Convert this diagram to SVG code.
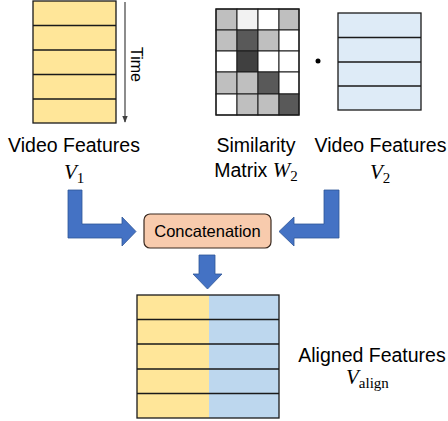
<svg xmlns="http://www.w3.org/2000/svg" width="448" height="421" viewBox="0 0 448 421">
<style>
.lbl{font-family:"Liberation Sans",Arial,sans-serif;font-size:19.5px;fill:#000;text-anchor:middle}
.math{font-family:"Liberation Serif","Times New Roman",serif;font-size:21px;fill:#000}
.mi{font-style:italic}
.sub{font-size:15px}
.yl{fill:#FFE699}
.bl{fill:#DEEBF7}
.bl2{fill:#BDD7EE}
.ln{stroke:#1a1a1a;stroke-width:1.3;fill:none}
.cell{stroke:#1a1a1a;stroke-width:1}
.arr{fill:#4472C4;stroke:#2F5597;stroke-width:0.8}
</style>
<defs>
<marker id="ah" viewBox="0 0 10 10" refX="9" refY="5" markerWidth="6" markerHeight="6" orient="auto">
<path d="M0,1 L10,5 L0,9 Z" fill="#404040"/>
</marker>
</defs>

<g id="v1-features">
<rect class="yl" x="33" y="1" width="83" height="122"/>
<path class="ln" d="M33,25.5H116M33,50H116M33,74.5H116M33,99H116"/>
<rect class="ln" x="33" y="1" width="83" height="122"/>
<line x1="125" y1="2" x2="125" y2="122" stroke="#404040" stroke-width="1.2" marker-end="url(#ah)"/>
<text transform="translate(131,64.5) rotate(90)" style="font-family:'Liberation Sans',Arial,sans-serif;font-size:16px" text-anchor="middle">Time</text>
<text class="lbl" x="74" y="152">Video Features</text>
<text class="math" x="64" y="179"><tspan class="mi">V</tspan><tspan class="sub" dy="4">1</tspan></text>
</g>

<g id="similarity-matrix">
<g class="cell">
<rect x="216" y="9" width="21" height="21" fill="#bfbfbf"/>
<rect x="237" y="9" width="21" height="21" fill="#f2f2f2"/>
<rect x="258" y="9" width="21" height="21" fill="#ffffff"/>
<rect x="279" y="9" width="20" height="21" fill="#bfbfbf"/>
<rect x="216" y="30" width="21" height="21" fill="#bfbfbf"/>
<rect x="237" y="30" width="21" height="21" fill="#595959"/>
<rect x="258" y="30" width="21" height="21" fill="#bfbfbf"/>
<rect x="279" y="30" width="20" height="21" fill="#ffffff"/>
<rect x="216" y="51" width="21" height="21" fill="#ffffff"/>
<rect x="237" y="51" width="21" height="21" fill="#404040"/>
<rect x="258" y="51" width="21" height="21" fill="#ffffff"/>
<rect x="279" y="51" width="20" height="21" fill="#ffffff"/>
<rect x="216" y="72" width="21" height="22" fill="#bfbfbf"/>
<rect x="237" y="72" width="21" height="22" fill="#bfbfbf"/>
<rect x="258" y="72" width="21" height="22" fill="#595959"/>
<rect x="279" y="72" width="20" height="22" fill="#ffffff"/>
<rect x="216" y="94" width="21" height="21" fill="#ffffff"/>
<rect x="237" y="94" width="21" height="21" fill="#bfbfbf"/>
<rect x="258" y="94" width="21" height="21" fill="#bfbfbf"/>
<rect x="279" y="94" width="20" height="21" fill="#595959"/>
</g>
<rect class="ln" x="216" y="9" width="83" height="106"/>
<text class="lbl" x="256" y="152">Similarity</text>
<text class="lbl" x="256" y="177">Matrix <tspan class="math mi" style="font-size:21px">W</tspan><tspan class="math" style="font-size:15px" dy="4">2</tspan></text>
</g>

<circle id="dot" cx="318" cy="61" r="2.5" fill="#000"/>

<g id="v2-features">
<rect class="bl" x="338" y="13" width="83" height="97"/>
<path class="ln" d="M338,37.5H421M338,62H421M338,86H421"/>
<rect class="ln" x="338" y="13" width="83" height="97"/>
<text class="lbl" x="380.5" y="152">Video Features</text>
<text class="math" x="370" y="179"><tspan class="mi">V</tspan><tspan class="sub" dy="4">2</tspan></text>
</g>

<g id="concatenation">
<rect x="144" y="214" width="127" height="34" rx="6" fill="#F8CBAD" stroke="#3a2a20" stroke-width="1.2"/>
<text x="207.5" y="237" style="font-family:'Liberation Sans',Arial,sans-serif;font-size:16.5px" text-anchor="middle">Concatenation</text>
</g>

<g id="aligned-features">
<rect class="yl" x="137" y="295" width="72" height="123"/>
<rect class="bl2" x="209" y="295" width="70" height="123"/>
<path class="ln" d="M137,319.5H279M137,344H279M137,369H279M137,393.5H279"/>
<rect class="ln" x="137" y="295" width="142" height="123"/>
<text class="lbl" x="372" y="362">Aligned Features</text>
<text class="math" x="346" y="384"><tspan class="mi">V</tspan><tspan class="sub" dy="4">align</tspan></text>
</g>

<g id="connectors">
<path class="arr" d="M68,190 L82,190 L82,224 L122,224 L122,217 L136,231.5 L122,246 L122,238 L68,238 Z"/>
<path class="arr" d="M339,190 L324,190 L324,224 L294,224 L294,217 L279,231.5 L294,246 L294,238 L339,238 Z"/>
<path class="arr" d="M199,255 L215,255 L215,274 L222,274 L207.5,289 L193,274 L199,274 Z"/>
</g>
</svg>
